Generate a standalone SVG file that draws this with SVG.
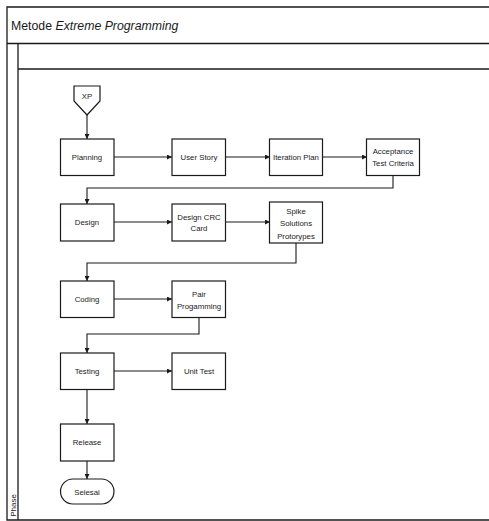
<svg xmlns="http://www.w3.org/2000/svg" width="489" height="521" viewBox="0 0 489 521">
<defs>
<style>
.frame{fill:none;stroke:#1a1a1a;stroke-width:1.3}
.box{fill:#ffffff;stroke:#1a1a1a;stroke-width:1.2}
.lbl{font-family:"Liberation Sans",Arial,sans-serif;font-size:7.8px;fill:#1a1a1a;text-anchor:middle}
.title{font-family:"Liberation Sans",Arial,sans-serif;font-size:12.3px;fill:#1a1a1a}
.conn{fill:none;stroke:#1a1a1a;stroke-width:1.1}
</style>
<marker id="arr" viewBox="0 0 10 10" refX="10" refY="5" markerWidth="5" markerHeight="5" orient="auto" markerUnits="userSpaceOnUse">
<path d="M0,0 L10,5 L0,10 Z" fill="#1a1a1a"/>
</marker>
</defs>
<rect width="489" height="521" fill="#ffffff"/>
<g id="pool">
<path class="frame" d="M490,7 H7 V520 H490"/>
<line class="frame" x1="7" y1="43.5" x2="490" y2="43.5"/>
<line class="frame" x1="18" y1="43.5" x2="18" y2="520"/>
<line class="frame" x1="18" y1="69" x2="490" y2="69"/>
<text class="title" x="11" y="30">Metode <tspan font-style="italic">Extreme Programming</tspan></text>
<text class="lbl" transform="translate(15.5,505.5) rotate(-90)" style="font-size:8px">Phase</text>
</g>
<g id="connectors">
<line class="conn" x1="87" y1="115" x2="87" y2="139" marker-end="url(#arr)"/>
<line class="conn" x1="114" y1="157" x2="172" y2="157" marker-end="url(#arr)"/>
<line class="conn" x1="225" y1="157" x2="270" y2="157" marker-end="url(#arr)"/>
<line class="conn" x1="322" y1="157" x2="367" y2="157" marker-end="url(#arr)"/>
<path class="conn" d="M393,175 V188 H87 V204" marker-end="url(#arr)"/>
<line class="conn" x1="114" y1="222" x2="172" y2="222" marker-end="url(#arr)"/>
<line class="conn" x1="225" y1="222" x2="270" y2="222" marker-end="url(#arr)"/>
<path class="conn" d="M296,243 V263 H87 V281" marker-end="url(#arr)"/>
<line class="conn" x1="114" y1="299" x2="172" y2="299" marker-end="url(#arr)"/>
<path class="conn" d="M199,317 V334 H87 V353" marker-end="url(#arr)"/>
<line class="conn" x1="114" y1="371" x2="172" y2="371" marker-end="url(#arr)"/>
<line class="conn" x1="87" y1="389" x2="87" y2="424" marker-end="url(#arr)"/>
<line class="conn" x1="87" y1="461" x2="87" y2="479" marker-end="url(#arr)"/>
</g>
<g id="xp">
<polygon class="box" points="74,86 100,86 100,101 87,115 74,101"/>
<text class="lbl" x="87" y="99">XP</text>
</g>
<g id="planning">
<rect class="box" x="60.5" y="139" width="53.5" height="36.5"/>
<text class="lbl" x="87" y="160">Planning</text>
</g>
<g id="userstory">
<rect class="box" x="172" y="139" width="53.5" height="36.5"/>
<text class="lbl" x="199" y="160">User Story</text>
</g>
<g id="iterationplan">
<rect class="box" x="269.5" y="139" width="53" height="36.5"/>
<text class="lbl" x="296" y="160">Iteration Plan</text>
</g>
<g id="acceptance">
<rect class="box" x="366.5" y="139" width="53" height="36.5"/>
<text class="lbl" x="393" y="154">Acceptance</text>
<text class="lbl" x="393" y="166">Test Criteria</text>
</g>
<g id="design">
<rect class="box" x="60.5" y="204" width="53.5" height="37"/>
<text class="lbl" x="87" y="225">Design</text>
</g>
<g id="designcrc">
<rect class="box" x="172" y="204" width="53.5" height="37"/>
<text class="lbl" x="199" y="219.5">Design CRC</text>
<text class="lbl" x="199" y="231">Card</text>
</g>
<g id="spike">
<rect class="box" x="269.5" y="202" width="53" height="41"/>
<text class="lbl" x="296" y="213.5">Spike</text>
<text class="lbl" x="296" y="225.5">Solutions</text>
<text class="lbl" x="296" y="239">Protorypes</text>
</g>
<g id="coding">
<rect class="box" x="60.5" y="281" width="53.5" height="36.5"/>
<text class="lbl" x="87" y="302">Coding</text>
</g>
<g id="pair">
<rect class="box" x="172" y="281" width="53.5" height="36.5"/>
<text class="lbl" x="199" y="297">Pair</text>
<text class="lbl" x="199" y="309">Progamming</text>
</g>
<g id="testing">
<rect class="box" x="60.5" y="353" width="53.5" height="36.5"/>
<text class="lbl" x="87" y="374">Testing</text>
</g>
<g id="unittest">
<rect class="box" x="172" y="353" width="53.5" height="36.5"/>
<text class="lbl" x="199" y="374">Unit Test</text>
</g>
<g id="release">
<rect class="box" x="60.5" y="424" width="53.5" height="37"/>
<text class="lbl" x="87" y="445">Release</text>
</g>
<g id="selesai">
<rect class="box" x="60.5" y="479" width="53.5" height="25" rx="12.5" ry="12.5"/>
<text class="lbl" x="87" y="494.5">Selesai</text>
</g>
</svg>
